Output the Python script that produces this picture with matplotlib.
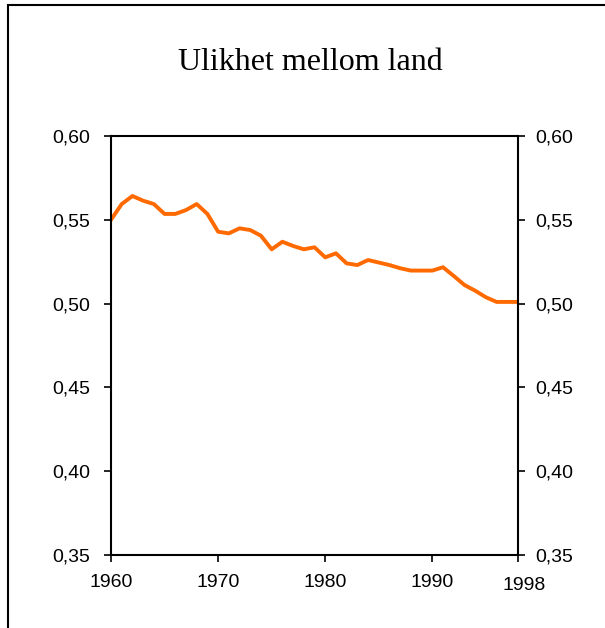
import matplotlib.pyplot as plt
import matplotlib.patches as patches
import matplotlib.transforms as mtransforms
from matplotlib.ticker import FuncFormatter

years = list(range(1960, 1999))
ulikhet = [
    0.5500, 0.5594, 0.5642, 0.5614, 0.5594, 0.5535, 0.5535, 0.5558, 0.5594, 0.5535,
    0.5429, 0.5419, 0.5449, 0.5439, 0.5405, 0.5324, 0.5369, 0.5344, 0.5324, 0.5336,
    0.5276, 0.5300, 0.5240, 0.5230, 0.5260, 0.5245, 0.5230, 0.5211, 0.5197, 0.5197,
    0.5197, 0.5217, 0.5165, 0.5111, 0.5077, 0.5038, 0.5010, 0.5010, 0.5010,
]
x_ticks = [1960, 1970, 1980, 1990, 1998]
y_ticks = [0.35, 0.40, 0.45, 0.50, 0.55, 0.60]

fig = plt.figure(figsize=(6.05, 6.28), dpi=100)
ax = fig.add_axes([111 / 605, 73 / 628, 407 / 605, 419 / 628])

# outer frame (only top and left edges visible)
fig.patches.append(patches.Rectangle((8 / 605, -0.2), 1.2, 1.2 - 5 / 628,
                                     transform=fig.transFigure, fill=False,
                                     edgecolor="black", linewidth=1.5))

ax.plot(years, ulikhet, color="#ff6a00", linewidth=2.8, solid_joinstyle="round")

ax.set_xlim(1960, 1998)
ax.set_ylim(0.35, 0.60)
ax.set_xticks(x_ticks)
ax.set_yticks(y_ticks)
ax.yaxis.set_major_formatter(FuncFormatter(lambda v, p: f"{v:.2f}".replace(".", ",")))

for s in ax.spines.values():
    s.set_linewidth(1.5)

ax.tick_params(axis="both", direction="out", length=5, width=1.2, labelsize=14)
ax.tick_params(axis="y", right=True, labelright=True, pad=10)
ax.tick_params(axis="x", pad=9)
for lab in ax.get_xticklabels() + ax.get_yticklabels():
    lab.set_fontfamily("Liberation Sans")
shift_left = mtransforms.ScaledTranslation(-4 / 100, 0, fig.dpi_scale_trans)
for t in ax.yaxis.get_major_ticks():
    t.label2.set_fontfamily("Liberation Sans")
    t.label2.set_transform(t.label2.get_transform() + shift_left)

# the last year label sits a bit lower and to the right
last = ax.get_xticklabels()[-1]
last.set_transform(last.get_transform() + mtransforms.ScaledTranslation(6 / 100, -3 / 100, fig.dpi_scale_trans))

fig.text(310 / 605, 1 - 63 / 628, "Ulikhet mellom land", ha="center", va="center",
         fontsize=23, fontfamily="Liberation Serif")

fig.savefig("out.png", dpi=100)
